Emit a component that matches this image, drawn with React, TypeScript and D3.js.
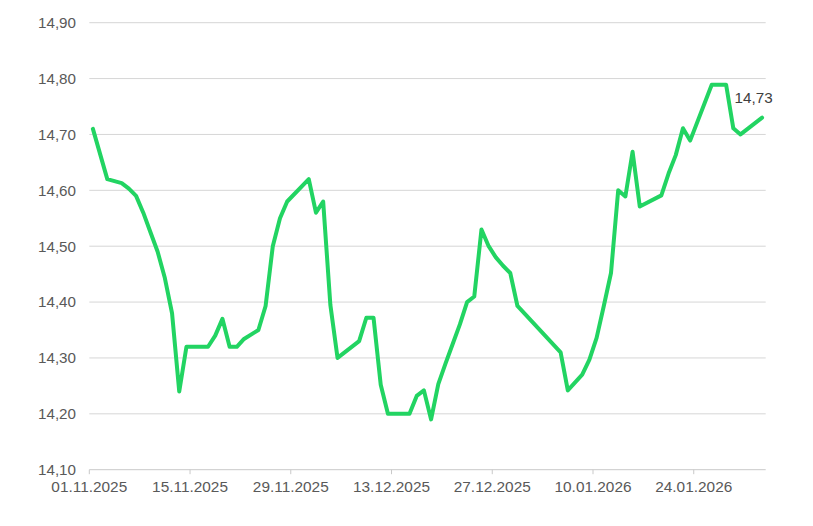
import React from "react";
import * as d3 from "d3";

const dates: string[] = [
  "2025-11-01", "2025-11-03", "2025-11-05", "2025-11-06", "2025-11-07", "2025-11-08",
  "2025-11-09", "2025-11-10", "2025-11-11", "2025-11-12", "2025-11-13", "2025-11-14",
  "2025-11-17", "2025-11-18", "2025-11-19", "2025-11-20", "2025-11-21", "2025-11-22",
  "2025-11-24", "2025-11-25", "2025-11-26", "2025-11-27", "2025-11-28", "2025-12-01",
  "2025-12-02", "2025-12-03", "2025-12-04", "2025-12-05", "2025-12-08", "2025-12-09",
  "2025-12-10", "2025-12-11", "2025-12-12", "2025-12-15", "2025-12-16", "2025-12-17",
  "2025-12-18", "2025-12-19", "2025-12-20", "2025-12-21", "2025-12-22", "2025-12-23",
  "2025-12-24", "2025-12-25", "2025-12-26", "2025-12-27", "2025-12-28", "2025-12-29",
  "2025-12-30", "2026-01-05", "2026-01-06", "2026-01-08", "2026-01-09", "2026-01-10",
  "2026-01-11", "2026-01-12", "2026-01-13", "2026-01-14", "2026-01-15", "2026-01-16",
  "2026-01-19", "2026-01-20", "2026-01-21", "2026-01-22", "2026-01-23", "2026-01-26",
  "2026-01-28", "2026-01-29", "2026-01-30", "2026-02-02",
];

const values: number[] = [
  14.71, 14.62, 14.613, 14.603, 14.59, 14.56,
  14.525, 14.49, 14.443, 14.38, 14.24, 14.32,
  14.32, 14.34, 14.37, 14.32, 14.32, 14.334,
  14.35, 14.393, 14.5, 14.55, 14.58, 14.62,
  14.56, 14.58, 14.395, 14.3, 14.33, 14.372,
  14.372, 14.252, 14.2, 14.2, 14.232, 14.242,
  14.19, 14.253, 14.29, 14.325, 14.36, 14.4,
  14.41, 14.53, 14.5, 14.48, 14.465, 14.452,
  14.393, 14.31, 14.242, 14.27, 14.297, 14.336,
  14.393, 14.452, 14.6, 14.589, 14.669, 14.571,
  14.591, 14.63, 14.663, 14.711, 14.689, 14.789,
  14.789, 14.711, 14.7, 14.73,
];

const yTicks: number[] = [14.1, 14.2, 14.3, 14.4, 14.5, 14.6, 14.7, 14.8, 14.9];
const xTickDates: string[] = [
  "2025-11-01", "2025-11-15", "2025-11-29", "2025-12-13",
  "2025-12-27", "2026-01-10", "2026-01-24",
];
const lastLabel = "14,73";

const W = 813;
const H = 526;
const left = 89.3;
const right = 765.7;
const top = 22.7;
const bottom = 469.7;

const parseDay = (s: string) => new Date(s + "T00:00:00");
const parseNoon = (s: string) => new Date(s + "T12:00:00");

const locale = d3.formatLocale({
  decimal: ",",
  thousands: ".",
  grouping: [3],
  currency: ["", " €"],
});
const fmtY = locale.format(".2f");
const fmtX = d3.timeFormat("%d.%m.%Y");

export default function App() {
  const x = d3
    .scaleTime()
    .domain([parseDay("2025-11-01"), parseDay("2026-02-03")])
    .range([left, right]);
  const y = d3.scaleLinear().domain([14.1, 14.9]).range([bottom, top]);

  const pts = dates.map((d, i) => ({ d: parseNoon(d), v: values[i] }));
  const line = d3
    .line<{ d: Date; v: number }>()
    .x((p) => x(p.d))
    .y((p) => y(p.v))
    .curve(d3.curveLinear);

  const last = pts[pts.length - 1];
  const font = "'Liberation Sans', Arial, sans-serif";

  return (
    <svg
      width={W}
      height={H}
      style={{ position: "absolute", left: 0, top: 0, background: "#fff" }}
    >
      {yTicks.map((t) => (
        <g key={t}>
          {t > 14.1 && (
            <line
              x1={left}
              x2={right}
              y1={y(t)}
              y2={y(t)}
              stroke="#d6d6d6"
              strokeWidth={1}
            />
          )}
          <text
            x={76}
            y={y(t) + 5.3}
            textAnchor="end"
            fontFamily={font}
            fontSize={15.2}
            fill="#595959"
          >
            {fmtY(t)}
          </text>
        </g>
      ))}
      <line
        x1={left}
        x2={right}
        y1={bottom}
        y2={bottom}
        stroke="#c9c9c9"
        strokeWidth={1}
      />
      {xTickDates.map((s) => {
        const d = parseDay(s);
        return (
          <g key={s}>
            <line
              x1={x(d)}
              x2={x(d)}
              y1={bottom}
              y2={bottom + 4.5}
              stroke="#c9c9c9"
              strokeWidth={1}
            />
            <text
              x={x(d)}
              y={492}
              textAnchor="middle"
              fontFamily={font}
              fontSize={15.4}
              fill="#595959"
            >
              {fmtX(d)}
            </text>
          </g>
        );
      })}
      <path
        d={line(pts) || ""}
        fill="none"
        stroke="#22d462"
        strokeWidth={4}
        strokeLinejoin="round"
        strokeLinecap="round"
      />
      <text
        x={x(last.d) - 27.5}
        y={y(last.v) - 15}
        fontFamily={font}
        fontSize={15.2}
        fill="#404040"
      >
        {lastLabel}
      </text>
    </svg>
  );
}
